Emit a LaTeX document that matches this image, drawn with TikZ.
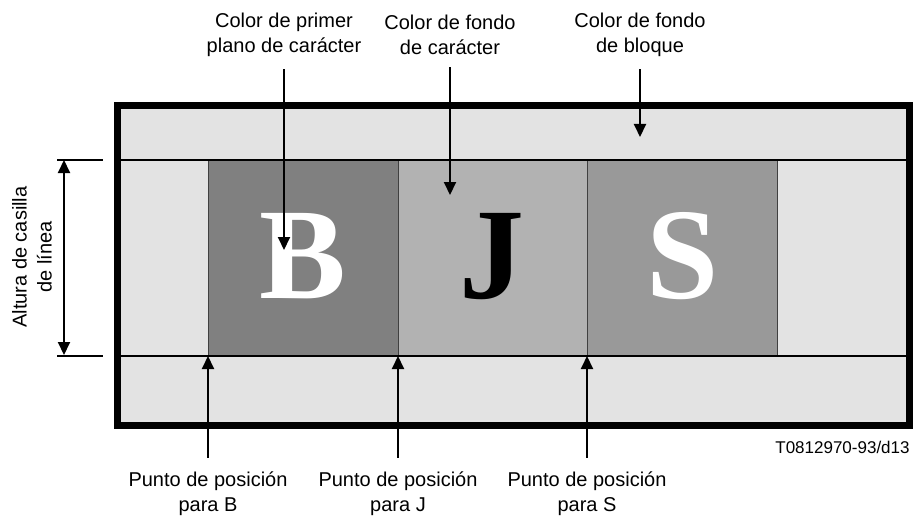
\documentclass[tikz,border=0pt]{standalone}
\usepackage{fontspec}
\setmainfont{Liberation Sans}
\newfontfamily\glyphfont{Liberation Serif}
\usetikzlibrary{positioning}
\usetikzlibrary{arrows.meta}

\definecolor{blockgray}{gray}{0.89}
\definecolor{bcell}{gray}{0.50}
\definecolor{jcell}{gray}{0.70}
\definecolor{scell}{gray}{0.60}

\begin{document}
\begin{tikzpicture}[x=0.5pt,y=-0.5pt,
  lbl/.style={align=center,font=\fontsize{10}{12.5}\selectfont,inner sep=0pt},
  ptr/.style={line width=1pt,-{Triangle[length=6.5pt,width=6pt]}},
  dimline/.style={line width=1pt,{Triangle[length=6.5pt,width=6pt]}-{Triangle[length=6.5pt,width=6pt]}},
  cell/.style={draw=black!75,line width=0.5pt},
  glyph/.style={font=\glyphfont\bfseries\fontsize{65}{65}\selectfont,anchor=base,inner sep=0pt}]

\useasboundingbox (0,0) rectangle (915,519);

% block background
\fill[blockgray] (117,106) rectangle (909,425);

% character cells
\filldraw[bcell,cell] (208,159.5) rectangle (398,356);
\filldraw[jcell,cell] (398,159.5) rectangle (587,356);
\filldraw[scell,cell] (587,159.5) rectangle (777,356);

\node[glyph,text=white] (chB) at (303,298) {B};
\node[glyph,text=black] (chJ) at (492,298) {J};
\node[glyph,text=white] (chS) at (683,298) {S};

% row lines
\draw[line width=1pt] (57,159.5) -- (103,159.5);
\draw[line width=1pt] (57,356) -- (103,356);
\draw[line width=1pt] (117,159.5) -- (909,159.5);
\draw[line width=1pt] (117,356) -- (909,356);

% block border
\draw[line width=3.5pt] (117,106) rectangle (909,425);

% row height
\coordinate (rowtop) at (64,160);
\coordinate (rowbot) at (64,355);
\draw[dimline] (rowtop) -- (rowbot);
\node[lbl,rotate=90] (rowlbl) at (32,257) {Altura de casilla\\de línea};

% top labels
\node[lbl] (fglbl) at (284,35) {Color de primer\\plano de carácter};
\node[lbl] (bglbl) at (450,35) {Color de fondo\\de carácter};
\node[lbl] (blklbl) at (640,35) {Color de fondo\\de bloque};

\coordinate (fgtip) at (284,250);
\coordinate (bgtip) at (450,195);
\coordinate (blktip) at (640,137);

\draw[ptr] ([yshift=-6pt]fglbl.south) -- (fgtip);
\draw[ptr] ([yshift=-6pt]bglbl.south) -- (bgtip);
\draw[ptr] ([yshift=-6pt]blklbl.south) -- (blktip);

% bottom labels
\node[lbl] (posB) at (208,494) {Punto de posición\\para B};
\node[lbl] (posJ) at (398,494) {Punto de posición\\para J};
\node[lbl] (posS) at (587,494) {Punto de posición\\para S};

\coordinate (tipB) at (208,356);
\coordinate (tipJ) at (398,356);
\coordinate (tipS) at (587,356);

\draw[ptr] ([yshift=7pt]posB.north) -- (tipB);
\draw[ptr] ([yshift=7pt]posJ.north) -- (tipJ);
\draw[ptr] ([yshift=7pt]posS.north) -- (tipS);

\node[font=\fontsize{8.5}{10}\selectfont,anchor=east,inner sep=0pt] (figref) at (910,447) {T0812970-93/d13};

\end{tikzpicture}
\end{document}
